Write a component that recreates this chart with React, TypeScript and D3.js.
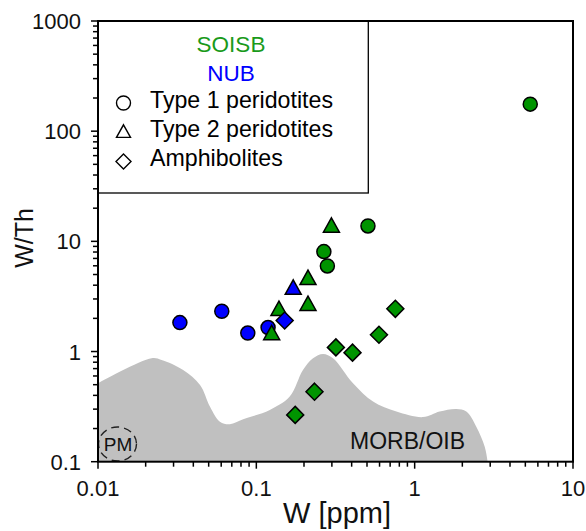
import React from "react";
import * as d3 from "d3";

// ---- data ----
const nubType1W = [0.0329, 0.0605, 0.0883, 0.1186];
const nubType1WTh = [1.83, 2.32, 1.47, 1.65];
const nubType2W = [0.171];
const nubType2WTh = [3.72];
const nubAmphW = [0.151];
const nubAmphWTh = [1.91];

const soisbType1W = [0.267, 0.281, 0.507, 5.37];
const soisbType1WTh = [8.07, 5.98, 13.8, 176];
const soisbType2W = [0.125, 0.139, 0.212, 0.212, 0.298];
const soisbType2WTh = [1.44, 2.39, 4.56, 2.65, 13.6];
const soisbAmphW = [0.755, 0.595, 0.318, 0.405, 0.233, 0.176];
const soisbAmphWTh = [2.44, 1.42, 1.09, 0.977, 0.432, 0.266];

// MORB/OIB field outline (top boundary, left to right)
const morbW = [0.01, 0.0218, 0.0252, 0.0345, 0.0441, 0.051, 0.0589, 0.0681, 0.0826, 0.1216, 0.1625, 0.197, 0.228, 0.264, 0.305, 0.408, 0.546, 0.767, 1.128, 1.438, 1.833, 2.12, 2.45, 2.77, 2.89];
const morbWTh = [0.515, 0.869, 0.839, 0.681, 0.498, 0.316, 0.231, 0.219, 0.243, 0.295, 0.39, 0.681, 0.869, 0.951, 0.869, 0.515, 0.351, 0.285, 0.254, 0.285, 0.301, 0.285, 0.208, 0.137, 0.1];

const xTickLabels = ["0.01", "0.1", "1", "10"];
const yTickLabels = ["0.1", "1", "10", "100", "1000"];

const GREEN = "#009400";
const BLUE = "#0000ff";
const FONT = "'Liberation Sans', Arial, sans-serif";

const left = 98, right = 573, top = 21, bottom = 461.7;

export default function App() {
  const x = d3.scaleLog().domain([0.01, 10]).range([left, right]);
  const y = d3.scaleLog().domain([0.1, 1000]).range([bottom, top]);

  const xMinor: number[] = [];
  for (let e = -2; e < 1; e++) for (let m = 2; m <= 9; m++) xMinor.push(m * Math.pow(10, e));
  const yMinor: number[] = [];
  for (let e = -1; e < 3; e++) for (let m = 2; m <= 9; m++) yMinor.push(m * Math.pow(10, e));
  const xMajor = [0.01, 0.1, 1, 10];
  const yMajor = [0.1, 1, 10, 100, 1000];

  const pts = morbW.map((w, i) => [x(w), y(morbWTh[i])] as [number, number]);
  const topLine = d3.line().curve(d3.curveCatmullRom.alpha(0.5))(pts) || "";
  const areaPath = topLine + `L${x(2.89)},${bottom}L${left},${bottom}Z`;

  const tri = (s: number) => `M0,${-s * 1.1}L${s},${s * 0.7}L${-s},${s * 0.7}Z`;
  const dia = (s: number) => `M0,${-s}L${s},0L0,${s}L${-s},0Z`;

  const circles = (ws: number[], vs: number[], fill: string) =>
    ws.map((w, i) => (
      <circle key={"c" + fill + i} cx={x(w)} cy={y(vs[i])} r={7} fill={fill} stroke="#000" strokeWidth={1.5} />
    ));
  const tris = (ws: number[], vs: number[], fill: string) =>
    ws.map((w, i) => (
      <path key={"t" + fill + i} d={tri(8)} transform={`translate(${x(w)},${y(vs[i])})`} fill={fill} stroke="#000" strokeWidth={1.5} />
    ));
  const dias = (ws: number[], vs: number[], fill: string) =>
    ws.map((w, i) => (
      <path key={"d" + fill + i} d={dia(8.5)} transform={`translate(${x(w)},${y(vs[i])})`} fill={fill} stroke="#000" strokeWidth={1.5} />
    ));

  return (
    <svg width={586} height={531} style={{ position: "absolute", left: 0, top: 0, background: "#fff" }} fontFamily={FONT}>
      <rect x={0} y={0} width={586} height={531} fill="#fff" />
      <clipPath id="plot">
        <rect x={left} y={top} width={right - left} height={bottom - top} />
      </clipPath>
      <path d={areaPath} fill="#c0c0c0" clipPath="url(#plot)" />

      {/* PM */}
      <ellipse cx={117.5} cy={444} rx={19} ry={17} fill="none" stroke="#222" strokeWidth={1.4} strokeDasharray="8,5" />
      <text x={118} y={451} fontSize={19} textAnchor="middle" fill="#111">PM</text>
      <text x={350} y={448.5} fontSize={23} fill="#111">MORB/OIB</text>

      {/* legend box */}
      <rect x={left} y={top} width={368.3 - left} height={193 - top} fill="#fff" stroke="#000" strokeWidth={1.3} />
      <text x={231} y={51.5} fontSize={22.5} textAnchor="middle" fill="#1a9a1a">SOISB</text>
      <text x={231} y={80.5} fontSize={22.5} textAnchor="middle" fill={BLUE}>NUB</text>
      <circle cx={123.5} cy={103} r={7} fill="none" stroke="#000" strokeWidth={1.4} />
      <path d={tri(7)} transform="translate(123.5,132.5)" fill="none" stroke="#000" strokeWidth={1.4} />
      <path d={dia(7.5)} transform="translate(123.5,161.5)" fill="none" stroke="#000" strokeWidth={1.4} />
      <text x={150} y={108} fontSize={23.2} fill="#000">Type 1 peridotites</text>
      <text x={150} y={137} fontSize={23.2} fill="#000">Type 2 peridotites</text>
      <text x={150} y={166} fontSize={23.2} fill="#000">Amphibolites</text>

      {/* data */}
      {circles(nubType1W, nubType1WTh, BLUE)}
      {tris(soisbType2W, soisbType2WTh, GREEN)}
      {tris(nubType2W, nubType2WTh, BLUE)}
      {dias(nubAmphW, nubAmphWTh, BLUE)}
      {circles(soisbType1W, soisbType1WTh, GREEN)}
      {dias(soisbAmphW, soisbAmphWTh, GREEN)}

      {/* frame */}
      <rect x={left} y={top} width={right - left} height={bottom - top} fill="none" stroke="#000" strokeWidth={2} />

      {/* y ticks */}
      {yMinor.map((v, i) => (
        <line key={"ym" + i} x1={left - 5} x2={left} y1={y(v)} y2={y(v)} stroke="#000" strokeWidth={1.5} />
      ))}
      {yMajor.map((v, i) => (
        <g key={"yM" + i}>
          <line x1={left - 7} x2={left} y1={y(v)} y2={y(v)} stroke="#000" strokeWidth={1.5} />
          <text x={81} y={y(v) + 8} fontSize={22} textAnchor="end" fill="#111">{yTickLabels[i]}</text>
        </g>
      ))}
      {/* x ticks */}
      {xMinor.map((v, i) => (
        <line key={"xm" + i} x1={x(v)} x2={x(v)} y1={bottom} y2={bottom + 5} stroke="#000" strokeWidth={1.5} />
      ))}
      {xMajor.map((v, i) => (
        <g key={"xM" + i}>
          <line x1={x(v)} x2={x(v)} y1={bottom} y2={bottom + 7} stroke="#000" strokeWidth={1.5} />
          <text x={x(v)} y={495.5} fontSize={22} textAnchor="middle" fill="#111">{xTickLabels[i]}</text>
        </g>
      ))}

      <text x={337} y={523} fontSize={29} textAnchor="middle" fill="#111">W [ppm]</text>
      <text transform="translate(33,238) rotate(-90)" fontSize={25} textAnchor="middle" fill="#111">W/Th</text>
    </svg>
  );
}
